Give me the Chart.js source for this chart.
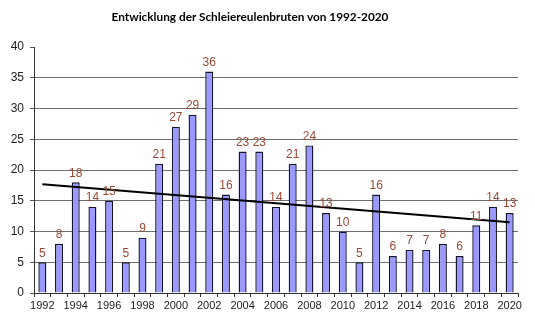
<!DOCTYPE html>
<html><head><meta charset="utf-8">
<script src="https://cdn.jsdelivr.net/npm/chart.js@4"></script>
<style>
html,body{margin:0;padding:0;background:#fff;}
#wrap{position:relative;width:535px;height:330px;}
#title{position:absolute;left:0;width:500px;top:9px;text-align:center;font-family:Lato,"Open Sans",sans-serif;font-weight:bold;font-size:11.8px;color:#000;}
canvas{position:absolute;left:0;top:0;}
</style></head>
<body>
<div id="wrap">
<canvas id="c" width="535" height="330"></canvas>
<div id="title">Entwicklung der Schleiereulenbruten von 1992-2020</div>
</div>
<script>
const years = ['1992','1993','1994','1995','1996','1997','1998','1999','2000','2001','2002','2003','2004','2005','2006','2007','2008','2009','2010','2011','2012','2013','2014','2015','2016','2017','2018','2019','2020'];
const broods = [5,8,18,14,15,5,9,21,27,29,36,16,23,23,14,21,24,13,10,5,16,6,7,7,8,6,11,14,13];
const trendYears = ['1992','2020'];
const trendValues = [17.7, 11.5];
const yTicks = [0,5,10,15,20,25,30,35,40];

const labelPlugin = {
  id:'valueLabels',
  afterDatasetsDraw(chart){
    const meta = chart.getDatasetMeta(0);
    const ctx = chart.ctx;
    ctx.save();
    ctx.font = '12px "Liberation Sans", Arial, sans-serif';
    ctx.fillStyle = '#9a4a34';
    ctx.textAlign = 'center';
    ctx.textBaseline = 'bottom';
    meta.data.forEach((el,i)=>{
      ctx.fillText(String(broods[i]), el.x, el.y - 3);
    });
    ctx.restore();
  }
};

new Chart(document.getElementById('c'), {
  data:{
    labels: years,
    datasets:[
      {type:'bar', data: broods, backgroundColor:'#9999ff', borderColor:'#14142e', borderWidth:1.4, categoryPercentage:1, barPercentage:0.48, order:1},
      {type:'line', data: trendYears.map((y,i)=>({x:y,y:trendValues[i]})), borderColor:'#000', borderWidth:2, pointRadius:0, fill:false, order:0}
    ]
  },
  options:{
    responsive:false, animation:false,
    layout:{padding:{top:47,left:0,right:17,bottom:17}},
    plugins:{legend:{display:false}, tooltip:{enabled:false}, title:{display:false}},
    scales:{
      x:{
        type:'category', offset:true,
        grid:{display:true, drawOnChartArea:false, drawTicks:true, tickLength:4, color:'#333', offset:true},
        border:{display:true, color:'#333', width:1},
        ticks:{autoSkip:false, maxRotation:0, padding:2, color:'#222', font:{family:'"Liberation Sans", Arial, sans-serif', size:11},
          callback:function(v,i){ return i%2===0 ? this.getLabelForValue(v) : ''; }},
        afterFit(s){ s.height = 20; }
      },
      y:{
        min:0, max:40,
        afterBuildTicks(s){ s.ticks = yTicks.map(v=>({value:v})); },
        grid:{color:(c)=> c.tick && c.tick.value===40 ? 'rgba(0,0,0,0)' : '#6e6e6e', tickColor:'#555', tickLength:4, lineWidth:1},
        border:{display:true, color:'#333', width:1},
        ticks:{padding:6, color:'#222', font:{family:'"Liberation Sans", Arial, sans-serif', size:12}},
        afterFit(s){ s.width = 34; }
      }
    }
  },
  plugins:[labelPlugin]
});
</script>
</body></html>
